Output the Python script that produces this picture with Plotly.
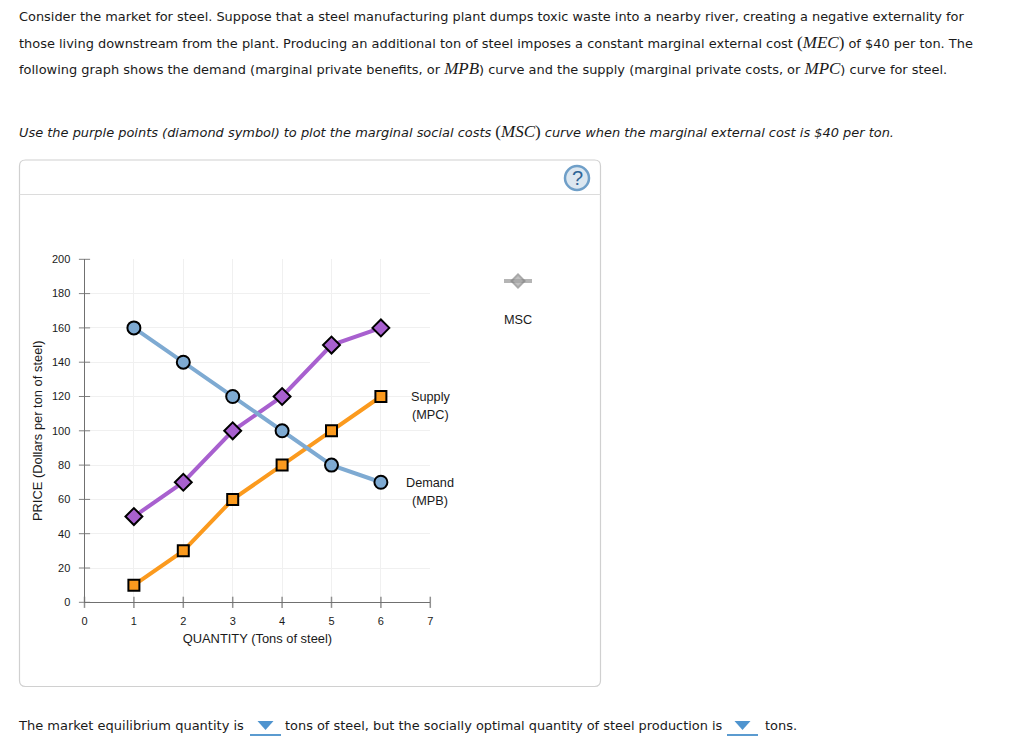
import plotly.graph_objects as go

W, H = 1024, 750
quantity = [1, 2, 3, 4, 5, 6]
demand_mpb = [160, 140, 120, 100, 80, 70]
supply_mpc = [10, 30, 60, 80, 100, 120]
msc = [50, 70, 100, 120, 150, 160]
x_ticks = [0, 1, 2, 3, 4, 5, 6, 7]
y_ticks = [0, 20, 40, 60, 80, 100, 120, 140, 160, 180, 200]
legend_x = [0, 1, 2]
legend_y = [1, 1, 1]

BLUE, ORANGE, PURPLE = "#7eaad2", "#fb9a1e", "#a860cf"
TEXT = "DejaVu Sans, Verdana, sans-serif"
CHART = "Liberation Sans, Arial, sans-serif"
SERIF = "Liberation Serif"
PX0, PX7 = 84.5, 430.3
PY200, PY0 = 259.3, 602.3

def px(x):
    return x / W

def py(y):
    return 1 - y / H

fig = go.Figure()

def curve(y, color, symbol, size, name):
    fig.add_trace(go.Scatter(
        x=quantity, y=y, mode="lines+markers", name=name, cliponaxis=False,
        line=dict(color=color, width=4),
        marker=dict(symbol=symbol, size=size, color=color, line=dict(color="#000000", width=2)),
    ))

curve(msc, PURPLE, "diamond", 13, "MSC")
curve(supply_mpc, ORANGE, "square", 11, "Supply (MPC)")
curve(demand_mpb, BLUE, "circle", 13, "Demand (MPB)")

# crossing tick marks, drawn on the axis lines
fig.add_trace(go.Scatter(
    x=[0] * len(y_ticks), y=y_ticks, mode="markers", cliponaxis=False, hoverinfo="skip",
    marker=dict(symbol="line-ew", size=8, line=dict(color="#808080", width=1)),
))
fig.add_trace(go.Scatter(
    x=x_ticks, y=[0] * len(x_ticks), mode="markers", cliponaxis=False, hoverinfo="skip",
    marker=dict(symbol="line-ns", size=8, line=dict(color="#909090", width=1.5)),
))
# MSC palette symbol, on its own small hidden axes
fig.add_trace(go.Scatter(
    x=legend_x, y=legend_y, xaxis="x2", yaxis="y2", mode="lines+markers", cliponaxis=False,
    hoverinfo="skip", line=dict(color="#b5b5b5", width=4),
    marker=dict(symbol="diamond", size=[0, 10, 0], color="#a6a6a6",
                line=dict(color="#858585", width=2)),
))

def note(text, x, y, size=13, family=TEXT, anchor="left", color="#1a1a1a"):
    fig.add_annotation(text=text, x=px(x), y=py(y), xref="paper", yref="paper",
                       xanchor=anchor, yanchor="middle", showarrow=False, align="center",
                       font=dict(family=family, size=size, color=color))

def sym(s):
    return f'<span style="font-family:{SERIF};font-size:17px">(<i>{s}</i>)</span>'

def plain(s):
    return f'<span style="font-family:{SERIF};font-size:17px"><i>{s}</i></span>'

LEFT = 17
note("Consider the market for steel. Suppose that a steel manufacturing plant dumps toxic waste into a nearby river, creating a negative externality for", LEFT, 17, 12.92)
note(f"those living downstream from the plant. Producing an additional ton of steel imposes a constant marginal external cost {sym('MEC')} of $40 per ton. The", LEFT, 42, 12.945)
note(f"following graph shows the demand (marginal private benefits, or {plain('MPB')}) curve and the supply (marginal private costs, or {plain('MPC')}) curve for steel.", LEFT, 69, 12.95)
note(f"<i>Use the purple points (diamond symbol) to plot the marginal social costs </i>{sym('MSC')}<i> curve when the marginal external cost is $40 per ton.</i>", LEFT, 132, 12.95)
note("The market equilibrium quantity is", 16, 725)
note("tons of steel, but the socially optimal quantity of steel production is", 283, 725, 12.92)
note("tons.", 763, 725)

note("Supply", 430, 397, 12.7, CHART, "center")
note("(MPC)", 430, 415, 12.7, CHART, "center")
note("Demand", 430, 482.5, 12.7, CHART, "center")
note("(MPB)", 430, 500.5, 12.7, CHART, "center")
note("MSC", 518, 320, 12.7, CHART, "center")
note("?", 577, 178, 20, CHART, "center", "#2f6596")

shapes = []
def pshape(**kw):
    shapes.append(dict(xref="paper", yref="paper", **kw))

r = 6
path = (f"M {px(19.5+r)} {py(160)} L {px(600.5-r)} {py(160)} Q {px(600.5)} {py(160)} {px(600.5)} {py(160+r)} "
        f"L {px(600.5)} {py(686.5-r)} Q {px(600.5)} {py(686.5)} {px(600.5-r)} {py(686.5)} "
        f"L {px(19.5+r)} {py(686.5)} Q {px(19.5)} {py(686.5)} {px(19.5)} {py(686.5-r)} "
        f"L {px(19.5)} {py(160+r)} Q {px(19.5)} {py(160)} {px(19.5+r)} {py(160)} Z")
pshape(type="path", path=path, line=dict(color="#d0d0d0", width=1.2), layer="below")
pshape(type="line", x0=px(19.5), x1=px(600.5), y0=py(194.5), y1=py(194.5),
       line=dict(color="#dcdcdc", width=1), layer="below")
pshape(type="circle", x0=px(565), x1=px(589), y0=py(166), y1=py(190),
       line=dict(color="#6f9fc8", width=2.5), fillcolor="#dce7f0", layer="below")
for a, b in [(250, 281), (727, 758)]:
    m = (a + b) / 2
    pshape(type="line", x0=px(a), x1=px(b), y0=py(735), y1=py(735), line=dict(color="#5b9bd0", width=2))
    pshape(type="path", path=f"M {px(m-8)} {py(721)} L {px(m+8)} {py(721)} L {px(m)} {py(730)} Z",
           fillcolor="#4f94cf", line=dict(width=0))

axis_common = dict(
    showgrid=True, gridcolor="#f0f0f0", gridwidth=1, zeroline=False,
    showline=True, linecolor="#707070", linewidth=1, ticks="",
    tickfont=dict(family=CHART, size=11, color="#1a1a1a"),
)
fig.update_layout(
    width=W, height=H, margin=dict(l=0, r=0, t=0, b=0, autoexpand=False),
    paper_bgcolor="#ffffff", plot_bgcolor="#ffffff", showlegend=False, shapes=shapes,
    xaxis=dict(domain=[px(PX0), px(PX7)], range=[0, 7], tickvals=x_ticks,
               title=dict(text="QUANTITY (Tons of steel)", standoff=8,
                          font=dict(family=CHART, size=12.9, color="#1a1a1a")),
               ticklabelstandoff=8, **axis_common),
    yaxis=dict(domain=[py(PY0), py(PY200)], range=[0, 200], tickvals=y_ticks,
               title=dict(text="PRICE (Dollars per ton of steel)", standoff=6,
                          font=dict(family=CHART, size=12.9, color="#1a1a1a")),
               ticklabelstandoff=11, **axis_common),
    xaxis2=dict(domain=[px(504), px(532)], range=[0, 2], visible=False, anchor="y2"),
    yaxis2=dict(domain=[py(291), py(271)], range=[0, 2], visible=False, anchor="x2"),
)
fig.write_html("out.html", config={"displayModeBar": False},
               post_script="document.body.style.margin='0';document.body.style.overflow='hidden';")
